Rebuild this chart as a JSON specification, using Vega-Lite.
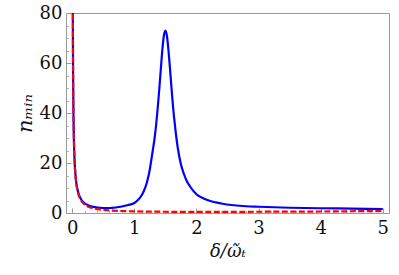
{
  "$schema": "https://vega.github.io/schema/vega-lite/v6.json",
  "autosize": "none",
  "width": 323,
  "height": 200,
  "padding": {"left": 66, "top": 13, "right": 10, "bottom": 62},
  "background": "white",
  "config": {
    "font": "DejaVu Serif",
    "view": {"stroke": "#9a9a9a", "strokeWidth": 1},
    "axis": {"labelFont": "DejaVu Serif", "titleFont": "DejaVu Serif", "labelColor": "#111", "titleColor": "#111", "tickColor": "#9a9a9a", "domain": false, "grid": false}
  },
  "datasets": {
    "curves": [
      {"x": 0.008, "n": 100, "s": "blue"}, {"x": 0.01, "n": 80, "s": "blue"}, {"x": 0.0125, "n": 64, "s": "blue"}, {"x": 0.015, "n": 53, "s": "blue"}, {"x": 0.02, "n": 40, "s": "blue"}, {"x": 0.025, "n": 32, "s": "blue"}, {"x": 0.03, "n": 26.5, "s": "blue"}, {"x": 0.04, "n": 20, "s": "blue"}, {"x": 0.05, "n": 16, "s": "blue"}, {"x": 0.06, "n": 13.3, "s": "blue"}, {"x": 0.07, "n": 11.4, "s": "blue"}, {"x": 0.08, "n": 10, "s": "blue"}, {"x": 0.1, "n": 8, "s": "blue"}, {"x": 0.12, "n": 6.6, "s": "blue"}, {"x": 0.15, "n": 5.2, "s": "blue"}, {"x": 0.2, "n": 3.9, "s": "blue"}, {"x": 0.25, "n": 3.2, "s": "blue"}, {"x": 0.3, "n": 2.7, "s": "blue"}, {"x": 0.4, "n": 2.2, "s": "blue"}, {"x": 0.5, "n": 2.0, "s": "blue"}, {"x": 0.6, "n": 2.0, "s": "blue"}, {"x": 0.7, "n": 2.2, "s": "blue"}, {"x": 0.8, "n": 2.6, "s": "blue"}, {"x": 0.9, "n": 3.2, "s": "blue"}, {"x": 1.0, "n": 4.0, "s": "blue"}, {"x": 1.05, "n": 5.0, "s": "blue"}, {"x": 1.1, "n": 6.4, "s": "blue"}, {"x": 1.15, "n": 8.6, "s": "blue"}, {"x": 1.2, "n": 12, "s": "blue"}, {"x": 1.25, "n": 17.5, "s": "blue"}, {"x": 1.275, "n": 21.5, "s": "blue"}, {"x": 1.3, "n": 25.5, "s": "blue"}, {"x": 1.325, "n": 29.7, "s": "blue"}, {"x": 1.35, "n": 35, "s": "blue"}, {"x": 1.375, "n": 41.5, "s": "blue"}, {"x": 1.4, "n": 49, "s": "blue"}, {"x": 1.425, "n": 57, "s": "blue"}, {"x": 1.45, "n": 65, "s": "blue"}, {"x": 1.475, "n": 70.8, "s": "blue"}, {"x": 1.5, "n": 73, "s": "blue"}, {"x": 1.525, "n": 70.8, "s": "blue"}, {"x": 1.55, "n": 65, "s": "blue"}, {"x": 1.575, "n": 57.5, "s": "blue"}, {"x": 1.6, "n": 49.5, "s": "blue"}, {"x": 1.625, "n": 42, "s": "blue"}, {"x": 1.65, "n": 36, "s": "blue"}, {"x": 1.675, "n": 30.5, "s": "blue"}, {"x": 1.7, "n": 26, "s": "blue"}, {"x": 1.75, "n": 19.5, "s": "blue"}, {"x": 1.8, "n": 15.5, "s": "blue"}, {"x": 1.85, "n": 12.5, "s": "blue"}, {"x": 1.9, "n": 10.5, "s": "blue"}, {"x": 2.0, "n": 7.5, "s": "blue"}, {"x": 2.1, "n": 6, "s": "blue"}, {"x": 2.2, "n": 5, "s": "blue"}, {"x": 2.4, "n": 3.8, "s": "blue"}, {"x": 2.6, "n": 3.1, "s": "blue"}, {"x": 2.8, "n": 2.7, "s": "blue"}, {"x": 3.0, "n": 2.5, "s": "blue"}, {"x": 3.5, "n": 2.1, "s": "blue"}, {"x": 4.0, "n": 1.9, "s": "blue"}, {"x": 4.5, "n": 1.75, "s": "blue"}, {"x": 5.0, "n": 1.6, "s": "blue"},
      {"x": 0.008, "n": 100, "s": "red"}, {"x": 0.01, "n": 80, "s": "red"}, {"x": 0.0125, "n": 64, "s": "red"}, {"x": 0.015, "n": 53, "s": "red"}, {"x": 0.02, "n": 40, "s": "red"}, {"x": 0.025, "n": 32, "s": "red"}, {"x": 0.03, "n": 26.5, "s": "red"}, {"x": 0.04, "n": 20, "s": "red"}, {"x": 0.05, "n": 15.8, "s": "red"}, {"x": 0.06, "n": 13, "s": "red"}, {"x": 0.07, "n": 11, "s": "red"}, {"x": 0.08, "n": 9.6, "s": "red"}, {"x": 0.1, "n": 7.5, "s": "red"}, {"x": 0.12, "n": 6.1, "s": "red"}, {"x": 0.15, "n": 4.7, "s": "red"}, {"x": 0.2, "n": 3.4, "s": "red"}, {"x": 0.25, "n": 2.6, "s": "red"}, {"x": 0.3, "n": 2.1, "s": "red"}, {"x": 0.4, "n": 1.55, "s": "red"}, {"x": 0.5, "n": 1.25, "s": "red"}, {"x": 0.6, "n": 1.05, "s": "red"}, {"x": 0.8, "n": 0.8, "s": "red"}, {"x": 1.0, "n": 0.65, "s": "red"}, {"x": 1.5, "n": 0.5, "s": "red"}, {"x": 2.0, "n": 0.45, "s": "red"}, {"x": 2.5, "n": 0.45, "s": "red"}, {"x": 3.0, "n": 0.5, "s": "red"}, {"x": 3.5, "n": 0.55, "s": "red"}, {"x": 4.0, "n": 0.6, "s": "red"}, {"x": 4.5, "n": 0.7, "s": "red"}, {"x": 5.0, "n": 0.8, "s": "red"}
    ]
  },
  "data": {"name": "curves"},
  "resolve": {"axis": {"x": "independent", "y": "independent"}},
  "layer": [
    {
      "transform": [{"filter": "datum.s === 'blue'"}],
      "mark": {"type": "line", "color": "#0000ff", "strokeWidth": 2.2, "interpolate": "monotone", "clip": true},
      "encoding": {
        "x": {"field": "x", "type": "quantitative", "scale": {"domain": [-0.1, 5.1], "nice": false, "zero": false},
          "axis": {"orient": "bottom", "values": [0, 1, 2, 3, 4, 5], "tickSize": -5, "labelPadding": 11, "labelFontSize": 18, "labelBaseline": "top", "title": "δ/ῶₜ", "titleFontSize": 18, "titleFontStyle": "italic", "titleFontWeight": "normal", "titlePadding": 5, "format": "d"}},
        "y": {"field": "n", "type": "quantitative", "scale": {"domain": [0, 80], "nice": false, "zero": false},
          "axis": {"orient": "left", "values": [0, 20, 40, 60, 80], "tickSize": -5, "labelPadding": 9, "labelFontSize": 18, "title": "nₘᵢₙ", "titleFontSize": 21, "titleFontStyle": "italic", "titleFontWeight": "normal", "titlePadding": 4, "format": "d"}}
      }
    },
    {
      "transform": [{"filter": "datum.s === 'red'"}],
      "mark": {"type": "line", "color": "#ff0000", "strokeWidth": 2.2, "strokeDash": [6, 2.5], "interpolate": "monotone", "clip": true},
      "encoding": {
        "x": {"field": "x", "type": "quantitative", "scale": {"domain": [-0.1, 5.1], "nice": false, "zero": false},
          "axis": {"orient": "bottom", "values": [0.2, 0.4, 0.6, 0.8, 1.2, 1.4, 1.6, 1.8, 2.2, 2.4, 2.6, 2.8, 3.2, 3.4, 3.6, 3.8, 4.2, 4.4, 4.6, 4.8], "tickSize": -2.5, "labels": false, "title": null, "tickColor": "#b5b5b5"}},
        "y": {"field": "n", "type": "quantitative", "scale": {"domain": [0, 80], "nice": false, "zero": false},
          "axis": {"orient": "left", "values": [5, 10, 15, 25, 30, 35, 45, 50, 55, 65, 70, 75], "tickSize": -2.5, "labels": false, "title": null, "tickColor": "#b5b5b5"}}
      }
    }
  ]
}
